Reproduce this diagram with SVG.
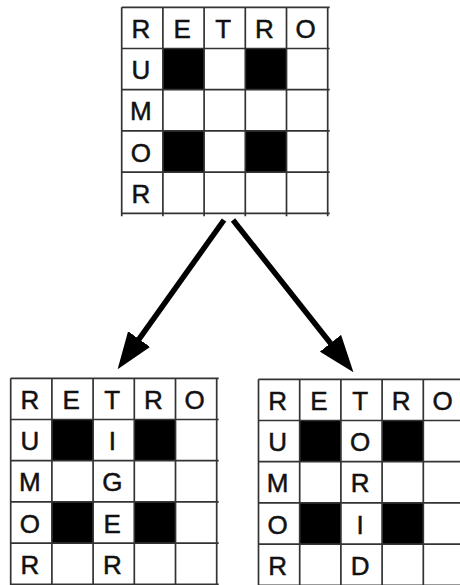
<svg xmlns="http://www.w3.org/2000/svg" xmlns:xlink="http://www.w3.org/1999/xlink" width="460" height="585" viewBox="0 0 460 585">
<style>
.grid{fill:none;stroke:#333;stroke-width:1.7}
.blk{fill:#000}
.t{font-family:"Liberation Sans",Arial,sans-serif;font-size:26px;fill:#111;stroke:#111;stroke-width:0.5;text-anchor:middle}
.arr{stroke:#000;stroke-width:5.5;fill:none}
</style>
<defs>
<g id="base">
<rect x="0" y="0" width="206" height="206" fill="#fff"/>
<rect class="blk" x="41.2" y="41.2" width="41.2" height="41.2"/>
<rect class="blk" x="123.6" y="41.2" width="41.2" height="41.2"/>
<rect class="blk" x="41.2" y="123.6" width="41.2" height="41.2"/>
<rect class="blk" x="123.6" y="123.6" width="41.2" height="41.2"/>
<path class="grid" d="M0,0H208M0,41.2H208M0,82.4H208M0,123.6H208M0,164.8H208M0,206H208M0,0V209M41.2,0V209M82.4,0V209M123.6,0V209M164.8,0V209M206,0V209"/>
</g>
<marker id="ah" viewBox="0 0 37 27" refX="1" refY="13.5" markerWidth="37" markerHeight="27" markerUnits="userSpaceOnUse" orient="auto">
<path d="M0,0L37,13.5L0,27z" fill="#000"/>
</marker>
</defs>
<g id="top" transform="translate(121.7,7.3)">
<use xlink:href="#base"/>
<text class="t" x="19.2" y="31">R</text><text class="t" x="60.5" y="31">E</text><text class="t" x="101.6" y="31">T</text><text class="t" x="142.7" y="31">R</text><text class="t" x="184" y="31">O</text>
<text class="t" x="19.2" y="72">U</text>
<text class="t" x="19.2" y="113">M</text>
<text class="t" x="19.2" y="154.5">O</text>
<text class="t" x="19.2" y="195.5">R</text>
</g>
<g id="left" transform="translate(10.7,378.3)">
<use xlink:href="#base"/>
<text class="t" x="19.2" y="31">R</text><text class="t" x="60.5" y="31">E</text><text class="t" x="101.6" y="31">T</text><text class="t" x="142.7" y="31">R</text><text class="t" x="184" y="31">O</text>
<text class="t" x="19.2" y="72">U</text><text class="t" x="101.6" y="72">I</text>
<text class="t" x="19.2" y="113">M</text><text class="t" x="101.6" y="113">G</text>
<text class="t" x="19.2" y="154.5">O</text><text class="t" x="101.6" y="154.5">E</text>
<text class="t" x="19.2" y="195.5">R</text><text class="t" x="101.6" y="195.5">R</text>
</g>
<g id="right" transform="translate(258.5,379.3)">
<use xlink:href="#base"/>
<text class="t" x="19.2" y="31">R</text><text class="t" x="60.5" y="31">E</text><text class="t" x="101.6" y="31">T</text><text class="t" x="142.7" y="31">R</text><text class="t" x="184" y="31">O</text>
<text class="t" x="19.2" y="72">U</text><text class="t" x="101.6" y="72">O</text>
<text class="t" x="19.2" y="113">M</text><text class="t" x="101.6" y="113">R</text>
<text class="t" x="19.2" y="154.5">O</text><text class="t" x="101.6" y="154.5">I</text>
<text class="t" x="19.2" y="195.5">R</text><text class="t" x="101.6" y="195.5">D</text>
</g>
<g id="connectors">
<path class="arr" d="M224,220L138.5,339.9" marker-end="url(#ah)"/>
<path class="arr" d="M233,220L331.1,344" marker-end="url(#ah)"/>
</g>
</svg>
